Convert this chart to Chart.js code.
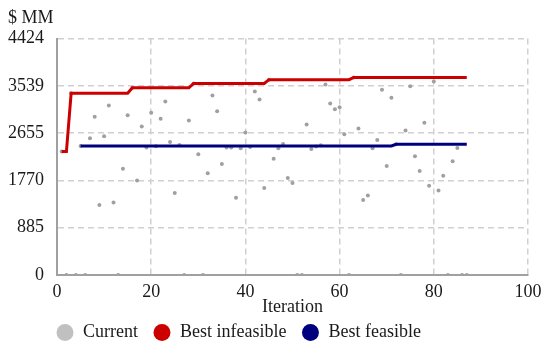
<!DOCTYPE html>
<html>
<head>
<meta charset="utf-8">
<script src="https://cdn.jsdelivr.net/npm/chart.js@4/dist/chart.umd.min.js"></script>
<style>
  html, body { margin: 0; padding: 0; background: #fff; }
  #wrap { width: 550px; height: 354px; }
</style>
</head>
<body>
<div id="wrap"><canvas id="c"></canvas></div>
<script>
const yTicks = [0, 885, 1770, 2655, 3539, 4424];

const currentIter = [];
for (let i = 1; i <= 87; i++) currentIter.push(i);
const currentValue = [
  2310, 0, 3400, 0, 2415, 0, 2559, 2960, 1308, 2596,
  3172, 1357, 0, 1990, 2990, 3504, 1770, 2778, 2384, 3035,
  2408, 2922, 3247, 2490, 1533, 2434, 0, 2890, 3585, 2259,
  0, 1902, 3360, 3066, 2077, 2384, 2384, 1445, 2371, 2665,
  2396, 3435, 3285, 1627, 3655, 2177, 2371, 2453, 1815, 1721,
  0, 0, 2816, 2359, 2403, 2427, 3566, 3210, 3103, 3141,
  2634, 0, 3698, 2741, 1402, 1489, 2371, 2528, 3467, 2040,
  3317, 2446, 0, 2703, 3534, 2220, 1946, 2847, 1670, 3623,
  1583, 1858, 0, 2127, 2378, 0, 0
];

const infeasIter = [1, 2, 3, 15, 16, 28, 29, 44, 45, 62, 63, 87];
const infeasValue = [2310, 2310, 3400, 3400, 3504, 3504, 3585, 3585, 3655, 3655, 3698, 3698];

const feasIter = [5, 71, 72, 87];
const feasValue = [2415, 2415, 2446, 2446];

const legendColors = ["#c0c0c0", "#cc0000", "#00007f"];

const pts = (xs, ys) => xs.map((x, i) => ({ x, y: ys[i] }));

const font = { family: "'Liberation Serif', 'DejaVu Serif', serif", size: 18, weight: "normal" };
Chart.defaults.color = "#1a1a1a";

// shift the legend so it starts under the plot like the original
const legendShift = {
  id: "legendShift",
  afterLayout(chart) {
    if (chart.legend) chart.legend.left = 41;
  }
};

new Chart(document.getElementById("c"), {
  type: "scatter",
  data: {
    datasets: [
      {
        label: "Current",
        data: pts(currentIter, currentValue),
        pointRadius: 2,
        pointBorderWidth: 0,
        pointBackgroundColor: "#a0a0a0",
        order: 3
      },
      {
        label: "Best infeasible",
        data: pts(infeasIter, infeasValue),
        showLine: true,
        borderColor: "#cc0000",
        borderWidth: 3,
        pointRadius: 0,
        pointBackgroundColor: "#cc0000",
        order: 2
      },
      {
        label: "Best feasible",
        data: pts(feasIter, feasValue),
        showLine: true,
        borderColor: "#00007f",
        borderWidth: 3,
        pointRadius: 0,
        pointBackgroundColor: "#00007f",
        order: 1
      }
    ]
  },
  options: {
    responsive: true,
    maintainAspectRatio: false,
    animation: false,
    layout: { padding: { left: 8, right: 22, top: 0, bottom: 2.5 } },
    plugins: {
      tooltip: { enabled: false },
      title: {
        display: true,
        text: "$ MM",
        align: "start",
        font,
        padding: { top: 7, bottom: 10 }
      },
      legend: {
        position: "bottom",
        align: "start",
        labels: {
          font,
          usePointStyle: true,
          pointStyle: "circle",
          boxHeight: 12,
          boxWidth: 18,
          padding: 15,
          sort: (a, b) => a.datasetIndex - b.datasetIndex,
          generateLabels: (chart) =>
            Chart.defaults.plugins.legend.labels.generateLabels(chart).map((l) => ({
              ...l,
              fillStyle: legendColors[l.datasetIndex],
              strokeStyle: legendColors[l.datasetIndex],
              lineWidth: 0
            }))
        }
      }
    },
    scales: {
      x: {
        type: "linear",
        min: 0,
        max: 100,
        ticks: { stepSize: 20, font, padding: 6, maxRotation: 0 },
        grid: { color: "#d0d0d0", lineWidth: 1.5, drawTicks: false },
        border: { color: "#a0a0a0", width: 2, dash: [6, 4] },
        title: { display: true, text: "Iteration", font, padding: { top: 0, bottom: -10 } },
        afterFit: (s) => { s.height = 33.5; }
      },
      y: {
        min: 0,
        max: 4424,
        afterBuildTicks: (s) => { s.ticks = yTicks.map((v) => ({ value: v })); },
        ticks: { font, padding: 13, callback: (v) => String(v) },
        grid: { color: "#d0d0d0", lineWidth: 1.5, drawTicks: false },
        border: { color: "#a0a0a0", width: 2, dash: [6, 4] },
        afterFit: (s) => { s.width = 49; }
      }
    }
  },
  plugins: [legendShift]
});
</script>
</body>
</html>
